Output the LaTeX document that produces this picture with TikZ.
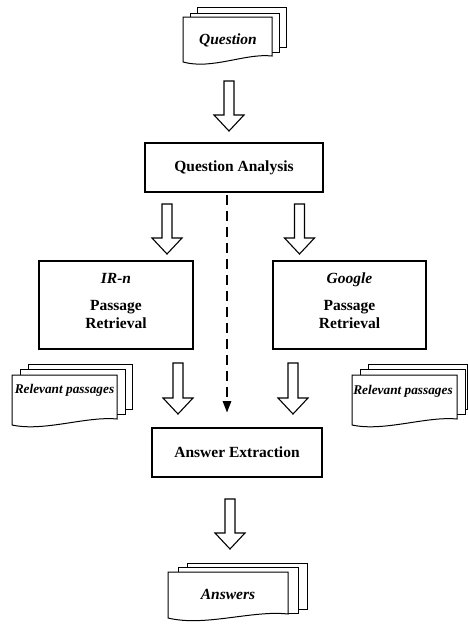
\documentclass[tikz,border=0pt]{standalone}
\usepackage{fontspec}
\setmainfont{Liberation Serif}
\usetikzlibrary{calc,arrows.meta}
\tikzset{
  procbox/.style={draw, line width=1.1pt, fill=white, inner sep=0pt},
  boxtext/.style={align=center, font=\fontsize{15.5}{18}\selectfont\bfseries, inner sep=0pt},
  sheet/.style={draw, line width=1pt, fill=white, line join=miter},
  blockarr/.style={draw, line width=1.1pt, fill=white, line join=miter},
  dasharr/.style={line width=2.8pt, dash pattern=on 10pt off 6pt, -{Triangle[length=12pt,width=8pt]}},
  doctext/.style={font=\fontsize{15.5}{18}\selectfont\bfseries\itshape, inner sep=0pt},
  smalldoctext/.style={font=\fontsize{13.3}{16}\selectfont\bfseries\itshape, inner sep=0pt},
}
\newcommand{\blockarrow}[2]{%
  \draw[blockarr] ($(#1)+(-5,0)$) -- ($(#2)+(-5,-16)$) -- ($(#2)+(-15,-16)$) -- (#2)
    -- ($(#2)+(15,-16)$) -- ($(#2)+(5,-16)$) -- ($(#1)+(5,0)$) -- cycle;}
\begin{document}
\begin{tikzpicture}[x=1pt,y=-1pt]
\useasboundingbox[fill=white] (0,0) rectangle (468,624);

% ---------- Question document stack ----------
\draw[sheet] (197,7) rectangle (286,47);
\draw[sheet] (190,13) rectangle (279,52);
\draw[sheet] (183,17) -- (272,17) -- (272,56) .. controls (245,53) and (212,70) .. (183,62) -- cycle;
\node[doctext] (q) at (228,40) {Question};

% ---------- Question Analysis ----------
\node[procbox, minimum width=178pt, minimum height=49pt] (qa) at (234,167.5) {};
\node[boxtext] (qat) at (qa.center) {Question Analysis};

% ---------- Passage retrieval boxes ----------
\node[procbox, minimum width=154pt, minimum height=88pt] (irn) at (116,305) {};
\node[boxtext] (irnt) at (116,301) {\textit{IR-n}\\[9pt]Passage\\Retrieval};
\node[procbox, minimum width=153pt, minimum height=88pt] (goog) at (349.5,305) {};
\node[boxtext] (googt) at (349.5,301) {\textit{Google}\\[9pt]Passage\\Retrieval};

% ---------- Relevant passages (left) ----------
\draw[sheet] (28,364) rectangle (132,409);
\draw[sheet] (20,369) rectangle (125,414);
\draw[sheet] (12,375) -- (117,375) -- (117,419) .. controls (86,416) and (44,432) .. (12,425) -- cycle;
\node[smalldoctext] (relL) at (64.5,390) {Relevant passages};

% ---------- Relevant passages (right) ----------
\draw[sheet] (368,364) rectangle (467,409);
\draw[sheet] (360,369) rectangle (465,414);
\draw[sheet] (352,375) -- (457,375) -- (457,419) .. controls (426,416) and (384,432) .. (352,425) -- cycle;
\node[smalldoctext] (relR) at (403,391) {Relevant passages};

% ---------- Answer Extraction ----------
\node[procbox, minimum width=170pt, minimum height=49pt] (ae) at (237,452.5) {};
\node[boxtext] (aet) at (ae.center) {Answer Extraction};

% ---------- Answers document stack ----------
\draw[sheet] (187,563) rectangle (307,609);
\draw[sheet] (178,567) rectangle (298,613);
\draw[sheet] (168,572) -- (288,572) -- (288,614) .. controls (252,610) and (205,627) .. (168,618) -- cycle;
\node[doctext] (ans) at (228,594) {Answers};

% ---------- Connectors ----------
\coordinate (a1s) at (229,81);   \coordinate (a1e) at (229,131);
\coordinate (a2s) at (167,204);  \coordinate (a2e) at (167,254);
\coordinate (a3s) at (299.5,204);\coordinate (a3e) at (299.5,254);
\coordinate (a4s) at (178,363);  \coordinate (a4e) at (178,414);
\coordinate (a5s) at (293,363);  \coordinate (a5e) at (293,414);
\coordinate (a6s) at (230,499);  \coordinate (a6e) at (230,549);
\coordinate (ds) at (227,195);   \coordinate (de) at (227,413);

\blockarrow{a1s}{a1e}
\blockarrow{a2s}{a2e}
\blockarrow{a3s}{a3e}
\blockarrow{a4s}{a4e}
\blockarrow{a5s}{a5e}
\blockarrow{a6s}{a6e}
\draw[dasharr] (ds) -- (de);
\end{tikzpicture}
\end{document}
